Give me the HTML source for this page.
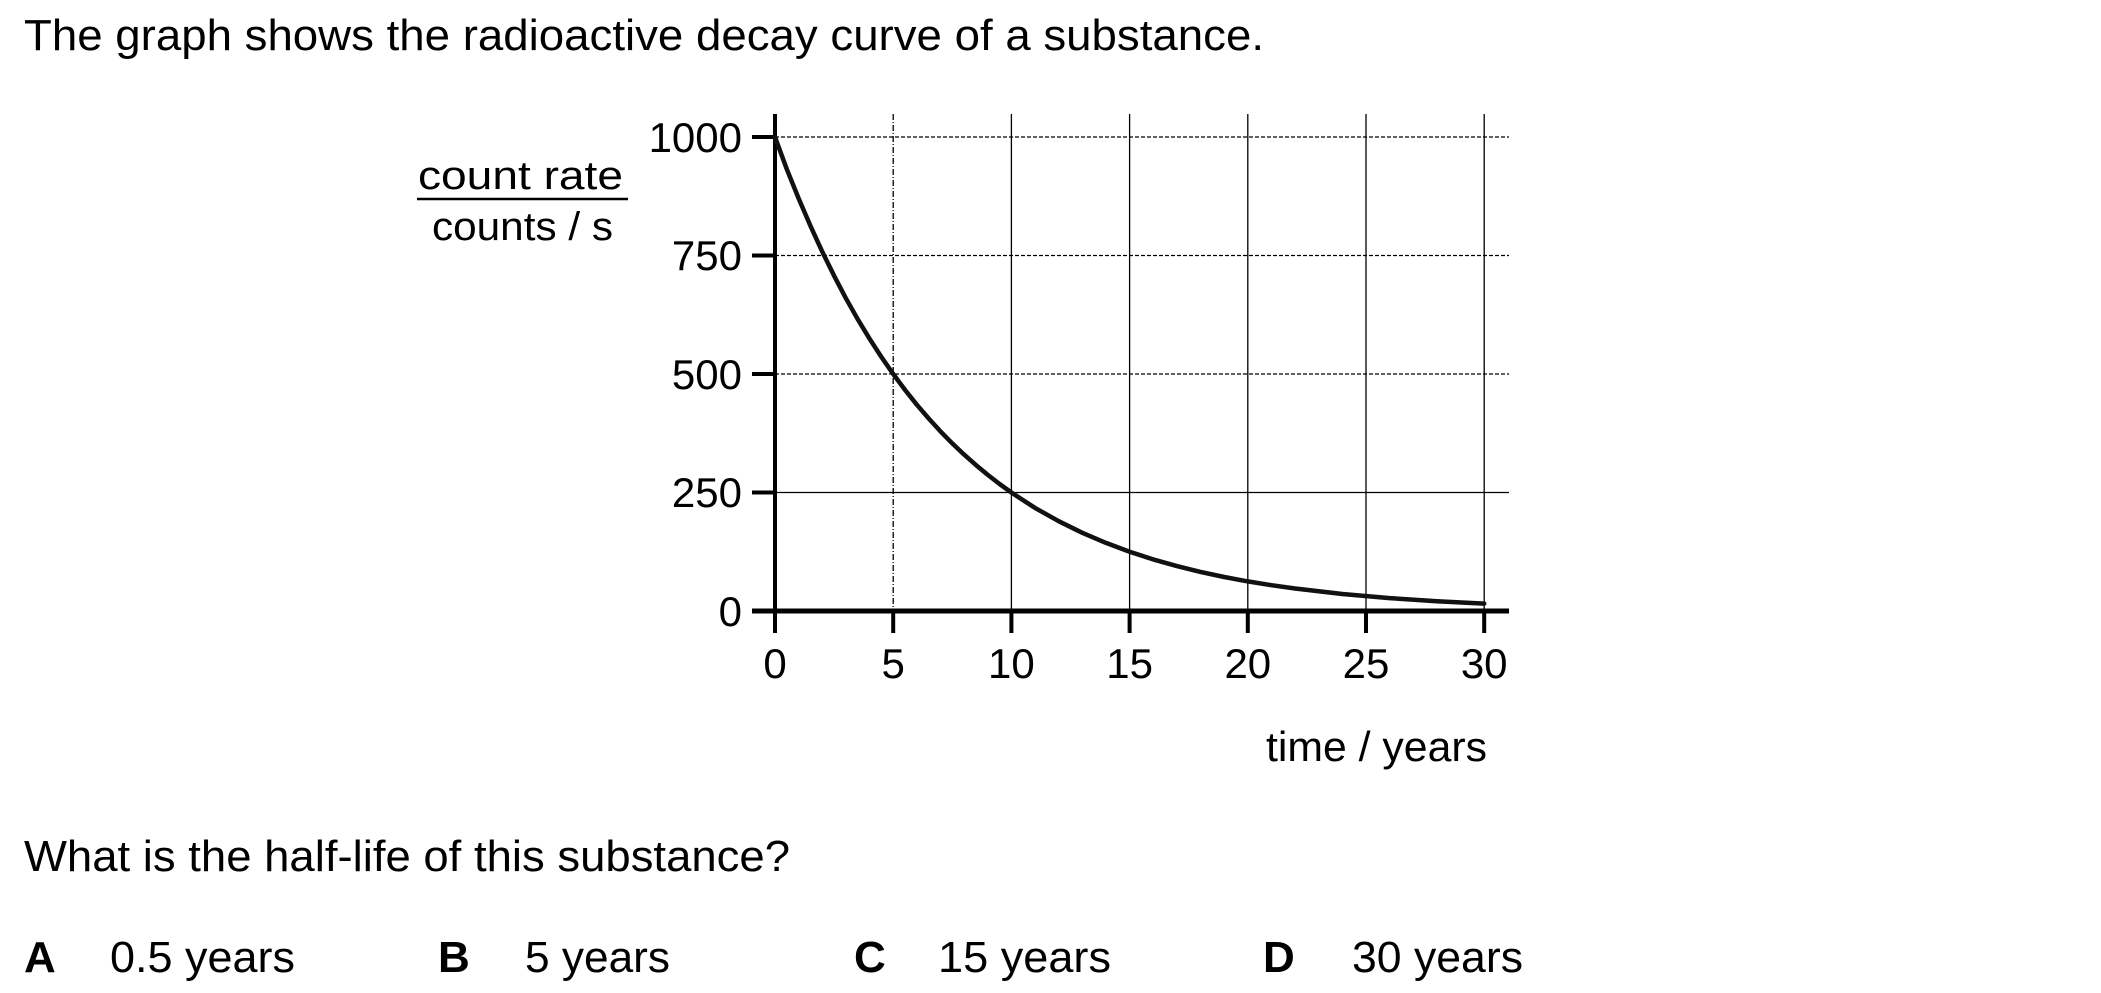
<!DOCTYPE html>
<html><head><meta charset="utf-8"><style>
html,body{margin:0;padding:0;background:#fff;width:2101px;height:993px;overflow:hidden}
text{font-family:"Liberation Sans",Arial,sans-serif;fill:#000}
</style></head><body>
<svg width="2101" height="993" viewBox="0 0 2101 993" xmlns="http://www.w3.org/2000/svg">
<text x="24" y="50" font-size="44" textLength="1240" lengthAdjust="spacingAndGlyphs">The graph shows the radioactive decay curve of a substance.</text>
<g stroke="#000" stroke-width="1.3" stroke-dasharray="4,2">
<line x1="775" y1="137" x2="1509" y2="137"/>
<line x1="775" y1="255.5" x2="1509" y2="255.5"/>
<line x1="775" y1="374" x2="1509" y2="374"/>
</g>
<g stroke="#000" stroke-width="1.3">
<line x1="775" y1="492.5" x2="1509" y2="492.5"/>
<line x1="893.2" y1="114" x2="893.2" y2="611" stroke-dasharray="6,2,1,2"/>
<line x1="1011.4" y1="114" x2="1011.4" y2="611"/>
<line x1="1129.6" y1="114" x2="1129.6" y2="611"/>
<line x1="1247.8" y1="114" x2="1247.8" y2="611"/>
<line x1="1366" y1="114" x2="1366" y2="611"/>
<line x1="1484.2" y1="114" x2="1484.2" y2="611"/>
</g>
<line x1="775" y1="114" x2="775" y2="633" stroke="#000" stroke-width="4"/>
<line x1="752" y1="611" x2="1509" y2="611" stroke="#000" stroke-width="5"/>
<g stroke="#000" stroke-width="4">
<line x1="752" y1="137" x2="775" y2="137"/><line x1="752" y1="255.5" x2="775" y2="255.5"/>
<line x1="752" y1="374" x2="775" y2="374"/><line x1="752" y1="492.5" x2="775" y2="492.5"/>
<line x1="893.2" y1="611" x2="893.2" y2="633"/><line x1="1011.4" y1="611" x2="1011.4" y2="633"/>
<line x1="1129.6" y1="611" x2="1129.6" y2="633"/><line x1="1247.8" y1="611" x2="1247.8" y2="633"/>
<line x1="1366" y1="611" x2="1366" y2="633"/><line x1="1484.2" y1="611" x2="1484.2" y2="633"/>
</g>
<polyline fill="none" stroke="#111" stroke-width="4.5" stroke-linejoin="round" stroke-linecap="round" points="775,137 786.8,169.2 798.6,198.4 810.5,226 822.3,251.8 834.1,275.8 845.9,298.3 857.7,319.2 869.6,338.8 881.4,357 893.2,374 905,389.9 916.8,404.7 928.7,418.5 940.5,431.4 952.3,443.4 964.1,454.6 976,465.1 987.8,474.9 999.6,484 1011.4,492.5 1035,507.9 1058.7,521.2 1082.3,532.8 1106,542.9 1129.6,551.75 1153.2,559.4 1176.9,566.1 1200.5,571.9 1224.2,577 1247.8,581.4 1271.4,585.2 1295.1,588.5 1342.4,594 1389.6,598.1 1436.9,601.2 1484.2,603.6"/>
<g font-size="42" text-anchor="end">
<text x="742" y="152">1000</text><text x="742" y="270">750</text>
<text x="742" y="389">500</text><text x="742" y="507">250</text><text x="742" y="626">0</text>
</g>
<g font-size="42" text-anchor="middle">
<text x="775" y="678">0</text><text x="893.2" y="678">5</text><text x="1011.4" y="678">10</text>
<text x="1129.6" y="678">15</text><text x="1247.8" y="678">20</text><text x="1366" y="678">25</text><text x="1484.2" y="678">30</text>
</g>
<text x="418" y="189" font-size="40" textLength="205" lengthAdjust="spacingAndGlyphs">count rate</text>
<line x1="417" y1="199" x2="628" y2="199" stroke="#000" stroke-width="2.5"/>
<text x="432" y="240" font-size="40" textLength="181" lengthAdjust="spacingAndGlyphs">counts / s</text>
<text x="1266" y="761" font-size="42" textLength="221" lengthAdjust="spacingAndGlyphs">time / years</text>
<text x="24" y="871" font-size="44" textLength="766" lengthAdjust="spacingAndGlyphs">What is the half-life of this substance?</text>
<g font-size="44">
<text x="24" y="972" font-weight="bold">A</text><text x="110" y="972" textLength="185" lengthAdjust="spacingAndGlyphs">0.5 years</text>
<text x="438" y="972" font-weight="bold">B</text><text x="525" y="972" textLength="145" lengthAdjust="spacingAndGlyphs">5 years</text>
<text x="854" y="972" font-weight="bold">C</text><text x="938" y="972" textLength="173" lengthAdjust="spacingAndGlyphs">15 years</text>
<text x="1263" y="972" font-weight="bold">D</text><text x="1352" y="972" textLength="171" lengthAdjust="spacingAndGlyphs">30 years</text>
</g>
</svg>
</body></html>
